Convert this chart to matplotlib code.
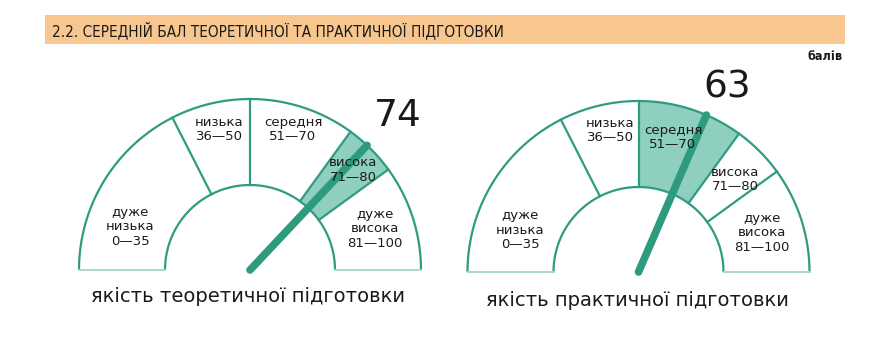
import numpy as np
import matplotlib
matplotlib.use("Agg")
import matplotlib.pyplot as plt
from matplotlib.patches import Polygon, Rectangle

# ---- data ----
header = "2.2. СЕРЕДНІЙ БАЛ ТЕОРЕТИЧНОЇ ТА ПРАКТИЧНОЇ ПІДГОТОВКИ"
unit = "балів"
band_edges = [0, 35, 50, 70, 80, 100]
band_names = ["дуже\nнизька", "низька", "середня", "висока", "дуже\nвисока"]
band_ranges = ["0—35", "36—50", "51—70", "71—80", "81—100"]
gauge_titles = ["якість теоретичної підготовки", "якість практичної підготовки"]
gauge_values = [74, 63]

# ---- style / layout ----
TEAL = "#2f9b80"
NEEDLE = "#2e9a7e"
FILL = "#8ecfbf"
BOTTOM = "#a9d8cc"
BAND = "#f8c78f"
TXT = "#1a1a1a"
R_OUT, R_IN = 171, 85
centers = [(250, 270), (638.5, 272)]
label_offsets = [
    [(-120, -43), (-31, -140.5), (43, -140.5), (103, -100), (125, -41)],
    [(-118.5, -42), (-28.5, -141.5), (34.5, -134.5), (96.5, -92.5), (123.5, -39)],
]
value_pos = [(398, 116), (727, 88)]
title_pos = [(248, 297), (637, 300)]

fig = plt.figure(figsize=(8.8, 3.6), dpi=100)
ax = fig.add_axes([0, 0, 1, 1])
ax.set_xlim(0, 880)
ax.set_ylim(360, 0)
ax.axis("off")

# header band
ax.add_patch(Rectangle((45, 15), 800, 29, facecolor=BAND, edgecolor="none"))
ax.text(52, 30, header, fontsize=11, color=TXT, va="center", ha="left",
        family="DejaVu Sans", fontstretch="condensed")
ax.text(843, 57, unit, fontsize=9, color=TXT, va="center", ha="right", fontweight="bold",
        family="DejaVu Sans", fontstretch="condensed")


def ang(v):
    return np.pi * (1 - v / 100.0)


def pt(c, r, a):
    return c[0] + r * np.cos(a), c[1] - r * np.sin(a)


for gi, (c, val) in enumerate(zip(centers, gauge_values)):
    # segments
    for si in range(len(band_names)):
        lo, hi = band_edges[si], band_edges[si + 1]
        a = np.linspace(ang(lo), ang(hi), 60)
        outer = np.column_stack(pt(c, R_OUT, a))
        inner = np.column_stack(pt(c, R_IN, a[::-1]))
        active = lo < val <= hi or (si == 0 and val == 0)
        ax.add_patch(Polygon(np.vstack([outer, inner]), closed=True,
                             facecolor=FILL if active else "white", edgecolor="none", zorder=1))
    # arcs
    a = np.linspace(0, np.pi, 300)
    for r in (R_OUT, R_IN):
        x, y = pt(c, r, a)
        ax.plot(x, y, color=TEAL, lw=1.6, zorder=2, solid_capstyle="butt")
    # radial boundaries
    for e in band_edges[1:-1]:
        x0, y0 = pt(c, R_IN, ang(e))
        x1, y1 = pt(c, R_OUT, ang(e))
        ax.plot([x0, x1], [y0, y1], color=TEAL, lw=1.6, zorder=2)
    # bottom lines
    for sgn in (-1, 1):
        ax.plot([c[0] + sgn * R_IN, c[0] + sgn * R_OUT], [c[1], c[1]],
                color=BOTTOM, lw=1.4, zorder=2)
    # needle
    x1, y1 = pt(c, R_OUT, ang(val))
    ax.plot([c[0], x1], [c[1], y1], color=NEEDLE, lw=5.5, solid_capstyle="round", zorder=3)
    # labels
    for si in range(len(band_names)):
        dx, dy = label_offsets[gi][si]
        ax.text(c[0] + dx, c[1] + dy, band_names[si] + "\n" + band_ranges[si],
                ha="center", va="center", fontsize=9.5, color=TXT,
                linespacing=1.15, zorder=4)
    # value
    ax.text(*value_pos[gi], str(val), fontsize=27, color=TXT, ha="center", va="center", zorder=6)
    # title
    ax.text(*title_pos[gi], gauge_titles[gi], fontsize=14, color=TXT, ha="center", va="center")

fig.savefig("out.png", dpi=100)
